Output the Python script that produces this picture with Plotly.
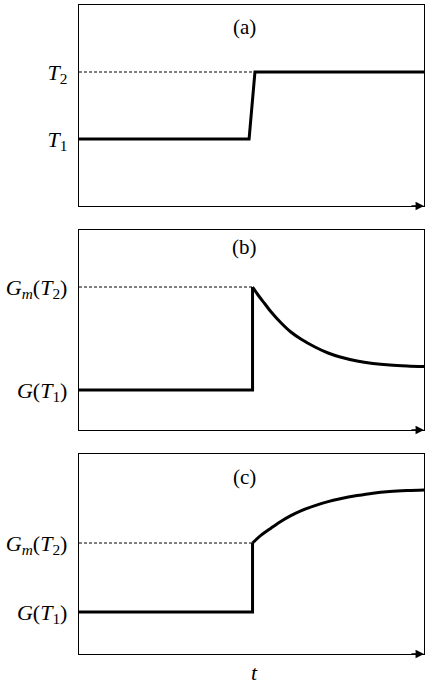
# Three stacked step-response sketches: (a) temperature, (b) and (c) modulus

import plotly.graph_objs as go

# --------------------------------------------------------------------------------
# Data (t on 0..10, step near t = 5)

# (a) temperature step T1 -> T2 (y range 0..3)
a_t = [0, 4.93, 5.10, 10]
a_y = [1, 1, 2, 2]
a_ref_t = [0, 5.10]
a_ref_y = [2, 2]
a_ticks = [1, 2]
a_labels = ['<i>T</i><sub>1</sub>', '<i>T</i><sub>2</sub>']

# (b) overshoot then relaxation (y range 0..1)
b_step_t = [0, 5.03, 5.03]
b_step_y = [0.2, 0.2, 0.715]
b_curve_t = [5.03, 5.19, 5.39, 5.57, 5.86, 6.14, 6.43, 6.84, 7.22, 7.57,
             8.06, 8.52, 9.01, 9.51, 10.0]
b_curve_y = [0.715, 0.675, 0.63, 0.59, 0.535, 0.49, 0.455, 0.415, 0.385, 0.365,
             0.345, 0.333, 0.325, 0.32, 0.317]
b_ref_t = [0, 5.03]
b_ref_y = [0.715, 0.715]
b_ticks = [0.2, 0.715]

# (c) jump then slow growth (y range 0..1)
c_step_t = [0, 5.03, 5.03]
c_step_y = [0.21, 0.21, 0.555]
c_curve_t = [5.03, 5.28, 5.57, 5.86, 6.14, 6.43, 6.84, 7.22, 7.57,
             8.06, 8.52, 9.01, 9.51, 10.0]
c_curve_y = [0.555, 0.594, 0.63, 0.664, 0.692, 0.716, 0.742, 0.762, 0.776,
             0.792, 0.804, 0.812, 0.817, 0.82]
c_ref_t = [0, 5.03]
c_ref_y = [0.555, 0.555]
c_ticks = [0.21, 0.555]

g_labels = ['<i>G</i>(<i>T</i><sub>1</sub>)', '<i>G<sub>m</sub></i>(<i>T</i><sub>2</sub>)']
panel_names = ['(a)', '(b)', '(c)']

# --------------------------------------------------------------------------------
# Traces
thick = dict(color='black', width=3)
dashed = dict(color='black', width=1, dash='3px,2px')

data = [
    go.Scatter(x=a_ref_t, y=a_ref_y, mode='lines', line=dashed, xaxis='x', yaxis='y'),
    go.Scatter(x=a_t, y=a_y, mode='lines', line=thick, xaxis='x', yaxis='y'),
    go.Scatter(x=b_ref_t, y=b_ref_y, mode='lines', line=dashed, xaxis='x2', yaxis='y2'),
    go.Scatter(x=b_step_t, y=b_step_y, mode='lines', line=thick, xaxis='x2', yaxis='y2'),
    go.Scatter(x=b_curve_t, y=b_curve_y, mode='lines', line=dict(thick, shape='spline'),
               xaxis='x2', yaxis='y2'),
    go.Scatter(x=c_ref_t, y=c_ref_y, mode='lines', line=dashed, xaxis='x3', yaxis='y3'),
    go.Scatter(x=c_step_t, y=c_step_y, mode='lines', line=thick, xaxis='x3', yaxis='y3'),
    go.Scatter(x=c_curve_t, y=c_curve_y, mode='lines', line=dict(thick, shape='spline'),
               xaxis='x3', yaxis='y3'),
]

# --------------------------------------------------------------------------------
# Layout
font = dict(family='Liberation Serif', size=22, color='black')
xdom = [79 / 430, 424 / 430]
ydoms = [
    [1 - 206 / 685, 1 - 5 / 685],
    [1 - 430 / 685, 1 - 230 / 685],
    [1 - 654 / 685, 1 - 454 / 685],
]


def xaxis(anchor):
    return dict(domain=xdom, range=[0, 10], anchor=anchor, showline=True, mirror=True,
                linecolor='black', linewidth=1.3, showgrid=False, zeroline=False,
                showticklabels=False, ticks='', fixedrange=True)


def yaxis(anchor, dom, rng, vals, labels):
    return dict(domain=dom, range=rng, anchor=anchor, showline=True, mirror=True,
                linecolor='black', linewidth=1.3, showgrid=False, zeroline=False,
                tickvals=vals, ticktext=labels, ticks='', ticklabelstandoff=6,
                tickfont=font, fixedrange=True)


annotations = []
label_pos = [0.89, 0.915, 0.885]
for k, name in enumerate(panel_names):
    sfx = '' if k == 0 else str(k + 1)
    annotations.append(dict(text=name, x=4.8, y=label_pos[k], xref='x' + sfx,
                            yref='y' + sfx + ' domain', yanchor='middle', showarrow=False,
                            font=dict(family='Liberation Serif', size=21, color='black')))
    # arrow head at the end of the time axis
    annotations.append(dict(text='', x=10, y=0, xref='x' + sfx, yref='y' + sfx + ' domain',
                            ax=-14, ay=0, axref='pixel', ayref='pixel', showarrow=True,
                            arrowhead=2, arrowsize=1.3, arrowwidth=1.3, arrowcolor='black'))

annotations.append(dict(text='<i>t</i>', x=5.1, y=0, xref='x3', yref='y3 domain',
                        yanchor='middle', yshift=-18, showarrow=False, font=font))

layout = go.Layout(
    width=430, height=685,
    margin=dict(l=0, r=0, t=0, b=0),
    paper_bgcolor='white', plot_bgcolor='white',
    showlegend=False,
    font=font,
    xaxis=xaxis('y'),
    xaxis2=xaxis('y2'),
    xaxis3=xaxis('y3'),
    yaxis=yaxis('x', ydoms[0], [0, 3], a_ticks, a_labels),
    yaxis2=yaxis('x2', ydoms[1], [0, 1], b_ticks, g_labels),
    yaxis3=yaxis('x3', ydoms[2], [0, 1], c_ticks, g_labels),
    annotations=annotations,
)

fig = go.Figure(data=data, layout=layout)
fig.write_html('out.html', config=dict(displayModeBar=False),
               post_script="document.body.style.margin='0px';")
